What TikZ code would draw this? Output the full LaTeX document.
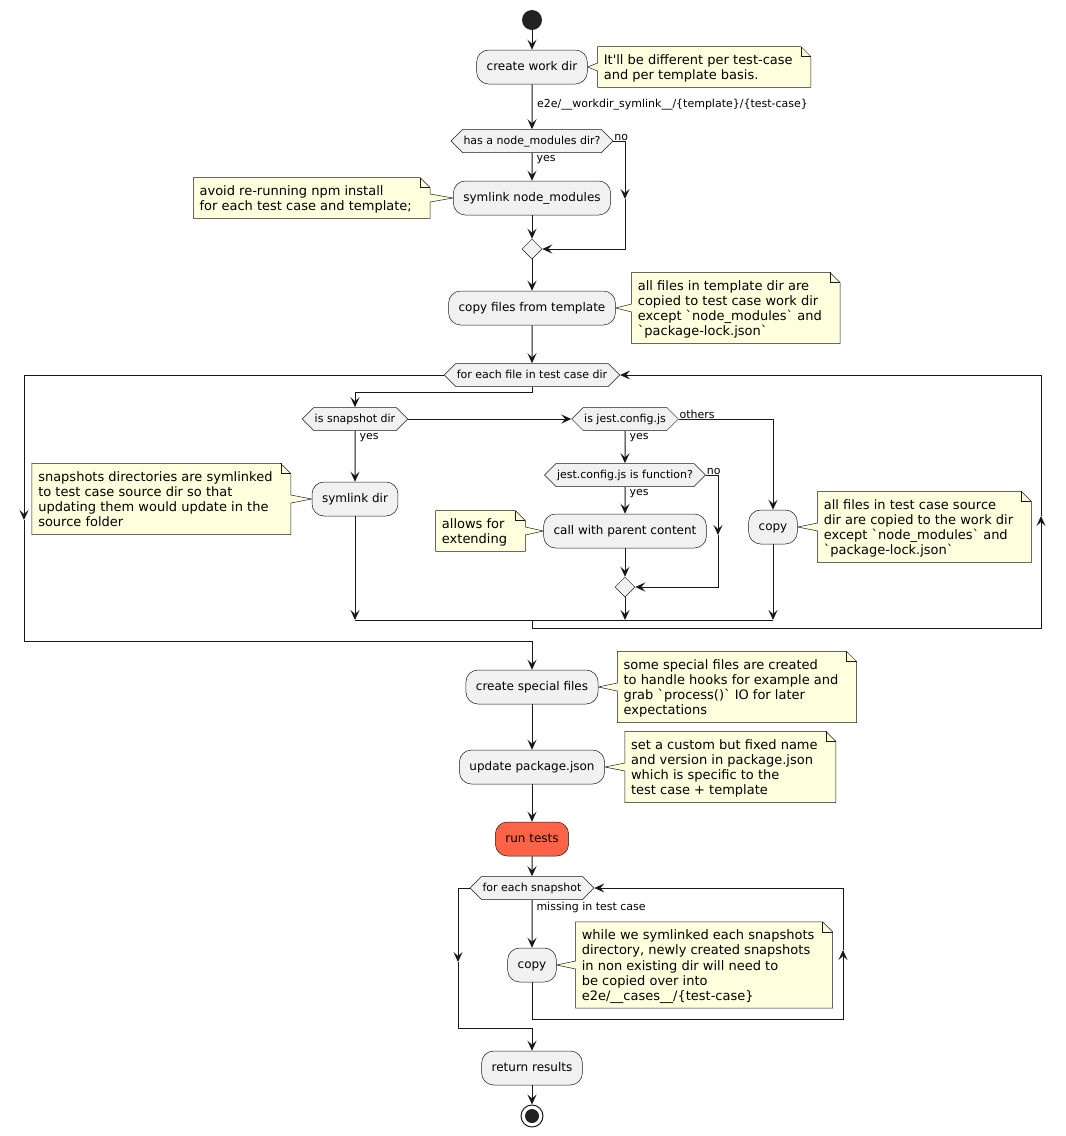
\documentclass[tikz,border=0pt]{standalone}
\usepackage{fontspec}
\setmainfont{DejaVu Sans}
\usetikzlibrary{arrows.meta,shapes.geometric,shapes.symbols}
\pgfdeclarelayer{background}
\pgfsetlayers{background,main}
\definecolor{actfill}{HTML}{F1F1F1}
\definecolor{ink}{HTML}{181818}
\definecolor{notefill}{HTML}{FEFFDD}
\definecolor{runfill}{HTML}{FF6347}
\definecolor{startc}{HTML}{222222}
\newcommand\ntab[1]{\begin{tabular}{@{}l@{\hspace{9pt}}}#1\end{tabular}}
\newcommand\noteR[4]{%
  \node[notetext, anchor=west] (#1) at ([xshift=#3,yshift=-1.5pt]#2.east) {\ntab{#4}};
  \coordinate (#1-w) at (#1.west |- #2.east);
  \coordinate (#1-nw) at ([yshift=1.5pt]#1.north west);
  \coordinate (#1-ne) at ([yshift=1.5pt]#1.north east);
  \coordinate (#1-se) at ([yshift=1.5pt]#1.south east);
  \coordinate (#1-sw) at ([yshift=1.5pt]#1.south west);
  \begin{pgfonlayer}{background}
  \path[notebg] (#1-nw) -- ([xshift=-7.5pt]#1-ne) -- ([yshift=-7.5pt]#1-ne)
    -- (#1-se) -- (#1-sw) -- ([yshift=-3pt]#1-w) -- (#2.east) -- ([yshift=3pt]#1-w) -- cycle;
  \end{pgfonlayer}
  \draw[notebg, fill=none] ([xshift=-7.5pt]#1-ne) |- ([yshift=-7.5pt]#1-ne);
}
\newcommand\noteL[4]{%
  \node[notetext, anchor=east] (#1) at ([xshift=-#3,yshift=-1.5pt]#2.west) {\ntab{#4}};
  \coordinate (#1-e) at (#1.east |- #2.west);
  \coordinate (#1-nw) at ([yshift=1.5pt]#1.north west);
  \coordinate (#1-ne) at ([yshift=1.5pt]#1.north east);
  \coordinate (#1-se) at ([yshift=1.5pt]#1.south east);
  \coordinate (#1-sw) at ([yshift=1.5pt]#1.south west);
  \begin{pgfonlayer}{background}
  \path[notebg] (#1-nw) -- ([xshift=-7.5pt]#1-ne) -- ([yshift=-7.5pt]#1-ne)
    -- ([yshift=3pt]#1-e) -- (#2.west) -- ([yshift=-3pt]#1-e) -- (#1-se) -- (#1-sw) -- cycle;
  \end{pgfonlayer}
  \draw[notebg, fill=none] ([xshift=-7.5pt]#1-ne) |- ([yshift=-7.5pt]#1-ne);
}
\begin{document}
\begin{tikzpicture}[x=0.75pt,y=-0.75pt,
  act/.style={draw=ink, line width=0.375pt, fill=actfill, rounded corners=9pt,
    minimum height=25.5pt, inner xsep=7.5pt, inner ysep=0pt,
    text height=6.8pt, text depth=1.8pt, font=\fontsize{9}{10.5}\selectfont},
  hexnode/.style={signal, signal to=west and east, signal pointer angle=90, draw=ink,
    line width=0.375pt, fill=actfill, minimum height=17.25pt, inner xsep=0.8pt, inner ysep=0pt,
    text height=6.2pt, text depth=1.6pt, font=\fontsize{8.25}{9.6}\selectfont},
  mergenode/.style={diamond, draw=ink, line width=0.375pt, fill=actfill, minimum size=15pt, inner sep=0pt},
  lbl/.style={font=\fontsize{8.25}{9.6}\selectfont, inner sep=0pt, text=black},
  notetext/.style={font=\fontsize{9.75}{11.35}\selectfont, inner xsep=4.5pt, inner ysep=3.75pt, draw=none},
  notebg/.style={fill=notefill, draw=ink, line width=0.375pt},
  arr/.style={draw=ink, line width=0.75pt, -{Stealth[length=7.5pt,width=6.75pt,inset=3pt]}},
  ln/.style={draw=ink, line width=0.75pt}
]
\useasboundingbox (0,0) rectangle (1065,1136);

% nodes
\node[circle, fill=startc, minimum size=15pt, inner sep=0pt] (start) at (532,20) {};
\node[act] (cwd) at (532,67) {create work dir};
\node[hexnode] (hex1) at (532,141) {has a node\_modules dir?};
\node[act] (snm) at (532,198) {symlink node\_modules};
\node[mergenode] (m1) at (532,249) {};
\node[act] (cft) at (532,308) {copy files from template};
\node[hexnode] (loop1) at (532,375) {for each file in test case dir};
\node[hexnode] (snap) at (355,419) {is snapshot dir};
\node[hexnode] (jest) at (625,419) {is jest.config.js};
\node[act] (sdir) at (355,499) {symlink dir};
\node[hexnode] (jfn) at (625,475) {jest.config.js is function?};
\node[act] (call) at (625,531) {call with parent content};
\node[mergenode] (m2) at (625,587) {};
\node[act] (cp) at (773,527) {copy};
\node[act] (csf) at (532,687) {create special files};
\node[act] (upj) at (532,767) {update package.json};
\node[act, fill=runfill] (run) at (532,839) {run tests};
\node[hexnode] (loop2) at (532,888) {for each snapshot};
\node[act] (cp2) at (532,965) {copy};
\node[act] (ret) at (532,1068) {return results};
\node[circle, draw=ink, line width=0.75pt, minimum size=16.5pt, inner sep=0pt] (end) at (532,1116) {};
\node[circle, fill=startc, minimum size=10.5pt, inner sep=0pt] (endin) at (end.center) {};

% notes
\noteR{n1}{cwd}{7.5pt}{It\textquotesingle ll be different per test-case\\and per template basis.}
\noteL{n2}{snm}{17.25pt}{avoid re-running npm install\\for each test case and template;}
\noteR{n3}{cft}{12pt}{all files in template dir are\\copied to test case work dir\\except \textasciigrave node\_modules\textasciigrave{} and\\\textasciigrave package-lock.json\textasciigrave}
\noteL{n4}{sdir}{15.75pt}{snapshots directories are symlinked\\to test case source dir so that\\updating them would update in the\\source folder}
\noteL{n5}{call}{13.5pt}{allows for\\extending}
\noteR{n6}{cp}{15pt}{all files in test case source\\dir are copied to the work dir\\except \textasciigrave node\_modules\textasciigrave{} and\\\textasciigrave package-lock.json\textasciigrave}
\noteR{n7}{csf}{14.25pt}{some special files are created\\to handle hooks for example and\\grab \textasciigrave process()\textasciigrave{} IO for later\\expectations}
\noteR{n8}{upj}{15pt}{set a custom but fixed name\\and version in package.json\\which is specific to the\\test case + template}
\noteR{n9}{cp2}{14.25pt}{while we symlinked each snapshots\\directory, newly created snapshots\\in non existing dir will need to\\be copied over into\\e2e/\_\_cases\_\_/\{test-case\}}

% coordinates
\coordinate (nm1) at (625,199);
\coordinate (lb) at (355,392);
\coordinate (ja) at (355,620);
\coordinate (jb) at (625,620);
\coordinate (jc) at (773,620);
\coordinate (jr) at (532,620);
\coordinate (nm2) at (718,535);
\coordinate (rb) at (1041,628);
\coordinate (rm) at (1041,516);
\coordinate (lm) at (24,520);
\coordinate (lj) at (532,641);
\coordinate (c2b) at (843,1019);
\coordinate (c2m) at (843,950);
\coordinate (l2m) at (458,962);
\coordinate (l2j) at (532,1028);

% connectors
\draw[arr] (start) -- (cwd);
\draw[arr] (cwd) -- node[lbl, anchor=west, pos=0.45, xshift=3.5pt] (lpath) {e2e/\_\_workdir\_symlink\_\_/\{template\}/\{test-case\}} (hex1);
\draw[arr] (hex1) -- node[lbl, anchor=north west, pos=0, xshift=3pt, yshift=-1.5pt] (ly1) {yes} (snm);
\draw[arr] (hex1.east) -| (nm1);
\node[lbl, anchor=south west] (ln1) at ([xshift=0.5pt,yshift=0.3pt]hex1.east) {no};
\draw[arr] (nm1) |- (m1.east);
\draw[arr] (snm) -- (m1);
\draw[arr] (m1) -- (cft);
\draw[arr] (cft) -- (loop1);
\draw[arr] (loop1.south) |- (lb) -- (snap.north);
\draw[arr] (snap.east) -- (jest.west);
\draw[arr] (snap) -- node[lbl, anchor=north west, pos=0, xshift=3pt, yshift=-1.5pt] (ly2) {yes} (sdir);
\draw[arr] (jest) -- node[lbl, anchor=north west, pos=0, xshift=3pt, yshift=-1.5pt] (ly3) {yes} (jfn);
\draw[arr] (jest.east) -| (cp.north);
\node[lbl, anchor=south west] (lo) at ([xshift=0.5pt,yshift=0.3pt]jest.east) {others};
\draw[arr] (jfn) -- node[lbl, anchor=north west, pos=0, xshift=3pt, yshift=-1.5pt] (ly4) {yes} (call);
\draw[arr] (jfn.east) -| (nm2);
\node[lbl, anchor=south west] (ln2) at ([xshift=0.5pt,yshift=0.3pt]jfn.east) {no};
\draw[arr] (nm2) |- (m2.east);
\draw[arr] (call) -- (m2);
\draw[arr] (sdir) -- (ja);
\draw[arr] (m2) -- (jb);
\draw[arr] (cp) -- (jc);
\draw[ln] (ja) -- (jc);
\draw[arr] (jr) |- (rb) -- (rm);
\draw[arr] (rm) |- (loop1.east);
\draw[arr] (loop1.west) -| (lm);
\draw[arr] (lm) |- (lj) -- (csf);
\draw[arr] (csf) -- (upj);
\draw[arr] (upj) -- (run);
\draw[arr] (run) -- (loop2);
\draw[arr] (loop2) -- node[lbl, anchor=north west, pos=0, xshift=3pt, yshift=-1.5pt] (lmiss) {missing in test case} (cp2);
\draw[arr] (cp2.south) |- (c2b) -- (c2m);
\draw[arr] (c2m) |- (loop2.east);
\draw[arr] (loop2.west) -| (l2m);
\draw[arr] (l2m) |- (l2j) -- (ret);
\draw[arr] (ret) -- (end);
\end{tikzpicture}
\end{document}
